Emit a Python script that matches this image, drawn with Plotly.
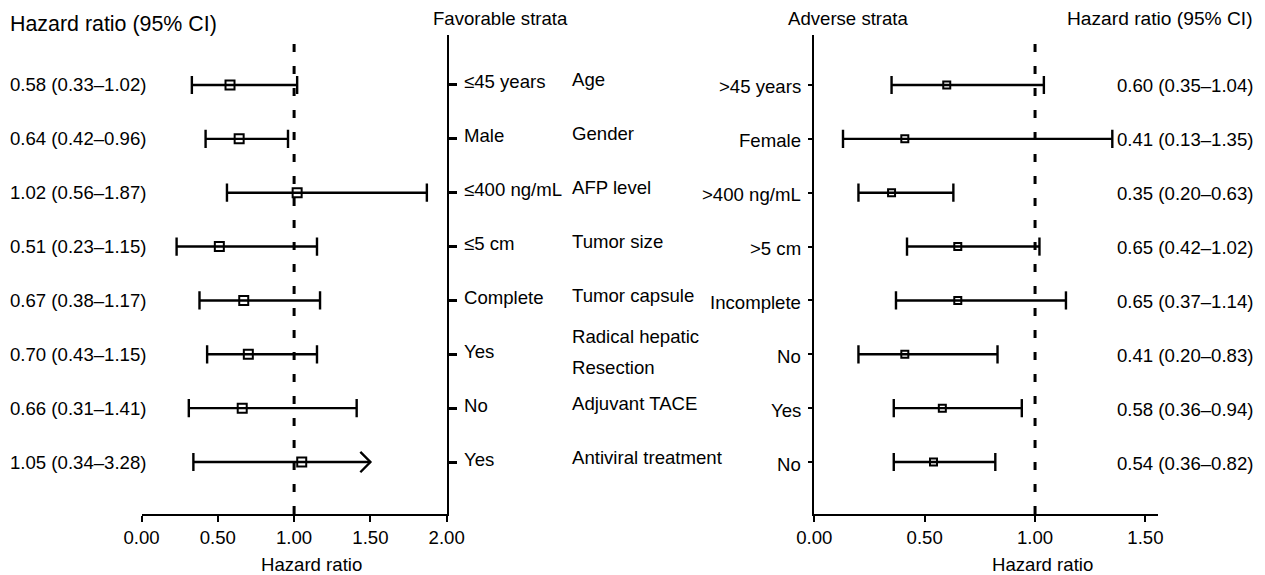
import plotly.graph_objects as go

# ---------------- data ----------------
categories = ["Age", "Gender", "AFP level", "Tumor size", "Tumor capsule",
              "Radical hepatic\nResection", "Adjuvant TACE", "Antiviral treatment"]
fav_strata = ["≤45 years", "Male", "≤400 ng/mL", "≤5 cm", "Complete", "Yes", "No", "Yes"]
adv_strata = [">45 years", "Female", ">400 ng/mL", ">5 cm", "Incomplete", "No", "Yes", "No"]

fav_hr = [0.58, 0.64, 1.02, 0.51, 0.67, 0.70, 0.66, 1.05]
fav_lo = [0.33, 0.42, 0.56, 0.23, 0.38, 0.43, 0.31, 0.34]
fav_hi = [1.02, 0.96, 1.87, 1.15, 1.17, 1.15, 1.41, 3.28]

adv_hr = [0.60, 0.41, 0.35, 0.65, 0.65, 0.41, 0.58, 0.54]
adv_lo = [0.35, 0.13, 0.20, 0.42, 0.37, 0.20, 0.36, 0.36]
adv_hi = [1.04, 1.35, 0.63, 1.02, 1.14, 0.83, 0.94, 0.82]

left_ticks = [0, 0.5, 1.0, 1.5, 2.0]
right_ticks = [0, 0.5, 1.0, 1.5]
left_axis_max = 2.0     # CIs beyond the axis are drawn as arrows
left_arrow_at = 1.5     # where the arrow tip is drawn

# ---------------- layout helpers ----------------
OX, OY = 8, 8                     # page body offset
W, H = 1265 - OX, 575 - OY        # figure size
T_PX, B_PX = 35, 514              # target top / baseline pixel rows
FONT = "Liberation Sans, Arial, Helvetica, sans-serif"
FS = 18.6
BLACK = "#000000"
LW = 2.4
rows = list(range(1, len(categories) + 1))


def px(x):
    return (x - OX) / W


def py(y):
    return 1 - (y - T_PX) / (B_PX - T_PX)


def fmt(hr, lo, hi):
    return f"{hr:.2f} ({lo:.2f}–{hi:.2f})"


fig = go.Figure()


def add_panel(hr, lo, hi, xa, ya, limit, arrow_at, msize):
    lx, ly = [], []
    cap_x, cap_y = [], []
    arrows = []
    for r, h, l, u in zip(rows, hr, lo, hi):
        top = u if u <= limit else arrow_at
        lx += [l, top, None]
        ly += [r, r, None]
        cap_x.append(l)
        cap_y.append(r)
        if u <= limit:
            cap_x.append(u)
            cap_y.append(r)
        else:
            arrows.append((top, r))
    fig.add_trace(go.Scatter(x=lx, y=ly, mode="lines", xaxis=xa, yaxis=ya,
                             line=dict(color=BLACK, width=LW), hoverinfo="skip",
                             showlegend=False))
    fig.add_trace(go.Scatter(x=cap_x, y=cap_y, mode="markers", xaxis=xa, yaxis=ya,
                             marker=dict(symbol="line-ns", size=13,
                                         line=dict(color=BLACK, width=LW)),
                             hoverinfo="skip", showlegend=False))
    for (ax, ay) in arrows:
        dx, dy = 0.066, 0.19
        fig.add_trace(go.Scatter(x=[ax - dx, ax, ax - dx], y=[ay - dy, ay, ay + dy],
                                 mode="lines", xaxis=xa, yaxis=ya,
                                 line=dict(color=BLACK, width=LW),
                                 hoverinfo="skip", showlegend=False))
    fig.add_trace(go.Scatter(x=hr, y=rows, mode="markers", xaxis=xa, yaxis=ya,
                             marker=dict(symbol="square-open", size=msize,
                                         color=BLACK, line=dict(color=BLACK, width=2)),
                             showlegend=False,
                             text=[fmt(a, b, c) for a, b, c in zip(hr, lo, hi)],
                             hoverinfo="text"))


add_panel(fav_hr, fav_lo, fav_hi, "x", "y", left_axis_max, left_arrow_at, 9)
add_panel(adv_hr, adv_lo, adv_hi, "x2", "y2", 99, 99, 7)

# dashed reference lines at HR = 1
for xr, yr in (("x", "y"), ("x2", "y2")):
    fig.add_shape(type="line", xref=xr, yref=f"{yr} domain", x0=1, x1=1, y0=0, y1=1,
                  line=dict(color=BLACK, width=3, dash="8px,14px"), layer="below")

ann = []


def text(x, y, s, xanchor="left", size=FS, yref="y", yshift=0):
    ann.append(dict(x=x, y=y, xref="paper", yref=yref, text=s, showarrow=False,
                    xanchor=xanchor, yanchor="middle", yshift=yshift,
                    font=dict(family=FONT, size=size, color=BLACK)))


for r, h, l, u in zip(rows, fav_hr, fav_lo, fav_hi):
    text(px(8), r, fmt(h, l, u))
for r, h, l, u in zip(rows, adv_hr, adv_lo, adv_hi):
    text(px(1255), r, fmt(h, l, u), xanchor="right", yshift=-1)
for r, s in zip(rows, fav_strata):
    text(px(462), r, s, yshift=3)
for r, s in zip(rows, adv_strata):
    text(px(803), r, s, xanchor="right", yshift=-2)
for r, s in zip(rows, categories):
    parts = s.split("\n")
    if len(parts) == 1:
        text(px(570), r, s, yshift=5)
    else:
        text(px(570), r, parts[0], yshift=18)
        text(px(570), r, parts[1], yshift=-13)

# headers
text(px(8), py(24), "Hazard ratio (95% CI)", size=21.4, yref="paper")
text(px(431), py(18), "Favorable strata", yref="paper")
text(px(786), py(18), "Adverse strata", yref="paper")
text(px(1255), py(18), "Hazard ratio (95% CI)", xanchor="right", size=19.2, yref="paper")
# axis titles
text(px(311), py(564), "Hazard ratio", xanchor="center", yref="paper")
text(px(1042), py(564), "Hazard ratio", xanchor="center", yref="paper")

yrange = [8.965, 0.072]
axis_common = dict(showgrid=False, zeroline=False, showline=True, linecolor=BLACK,
                   linewidth=2, ticks="outside", tickcolor=BLACK, automargin=False,
                   tickfont=dict(family=FONT, size=FS, color=BLACK))

fig.update_layout(
    width=W, height=H, autosize=False,
    margin=dict(l=0, r=0, t=T_PX - OY, b=H - (B_PX - OY), pad=0),
    paper_bgcolor="white", plot_bgcolor="white",
    showlegend=False,
    font=dict(family=FONT, size=FS, color=BLACK),
    xaxis=dict(domain=[px(141.5), px(446.7)], range=[0, 2], anchor="y",
               tickvals=left_ticks, ticktext=[f"{v:.2f}" for v in left_ticks],
               ticklen=6, tickwidth=2, **axis_common),
    xaxis2=dict(domain=[px(814.3), px(1158)], range=[0, 1.557], anchor="y2",
                tickvals=right_ticks, ticktext=[f"{v:.2f}" for v in right_ticks],
                ticklen=6, tickwidth=2, **axis_common),
    yaxis=dict(range=yrange, anchor="x", side="right", tickvals=rows,
               showticklabels=False, ticklen=8, tickwidth=3, **axis_common),
    yaxis2=dict(range=yrange, anchor="x2", side="left", tickvals=rows,
                showticklabels=False, ticklen=4, tickwidth=2, **axis_common),
    annotations=ann,
)

fig.write_html("out.html")
